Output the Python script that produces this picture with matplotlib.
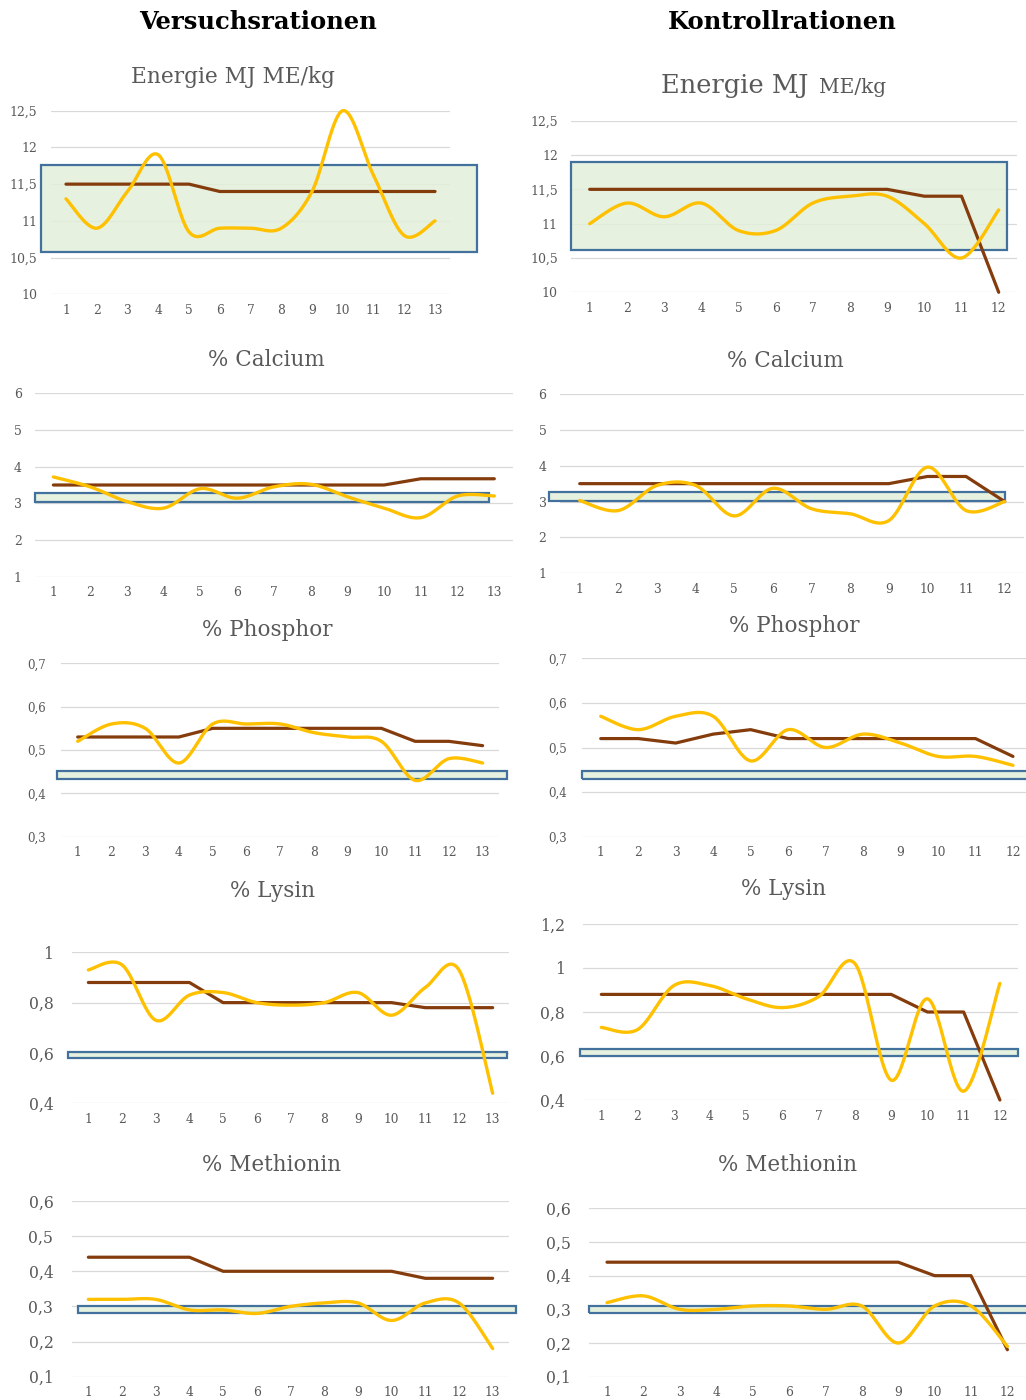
import numpy as np
import matplotlib.pyplot as plt
from matplotlib.patches import Rectangle
from matplotlib.ticker import FuncFormatter, MultipleLocator
import matplotlib.transforms as mtransforms

plt.rcParams['font.family'] = ['DejaVu Serif']

W, H = 1026, 1400
YELLOW = '#FFC000'
BROWN = '#843C0C'
FILL = '#E2EFDA'
EDGE = '#41719C'
GRID = '#D9D9D9'
TXT = '#595959'

# --- Versuchsrationen (13 rations) ---
v_energie_soll = [11.5, 11.5, 11.5, 11.5, 11.5, 11.4, 11.4, 11.4, 11.4, 11.4, 11.4, 11.4, 11.4]
v_energie_ist = [11.3, 10.9, 11.4, 11.9, 10.85, 10.9, 10.9, 10.9, 11.4, 12.5, 11.62, 10.8, 11.0]
v_ca_soll = [3.5, 3.5, 3.5, 3.5, 3.5, 3.5, 3.5, 3.5, 3.5, 3.5, 3.67, 3.67, 3.67]
v_ca_ist = [3.72, 3.45, 3.05, 2.87, 3.4, 3.14, 3.45, 3.52, 3.18, 2.87, 2.61, 3.2, 3.2]
v_p_soll = [0.53, 0.53, 0.53, 0.53, 0.55, 0.55, 0.55, 0.55, 0.55, 0.55, 0.52, 0.52, 0.51]
v_p_ist = [0.52, 0.56, 0.55, 0.47, 0.56, 0.56, 0.56, 0.54, 0.53, 0.52, 0.43, 0.48, 0.47]
v_lys_soll = [0.88, 0.88, 0.88, 0.88, 0.80, 0.80, 0.80, 0.80, 0.80, 0.80, 0.78, 0.78, 0.78]
v_lys_ist = [0.93, 0.95, 0.73, 0.83, 0.84, 0.80, 0.79, 0.80, 0.84, 0.75, 0.86, 0.93, 0.44]
v_met_soll = [0.44, 0.44, 0.44, 0.44, 0.40, 0.40, 0.40, 0.40, 0.40, 0.40, 0.38, 0.38, 0.38]
v_met_ist = [0.32, 0.32, 0.32, 0.29, 0.29, 0.28, 0.30, 0.31, 0.31, 0.26, 0.31, 0.31, 0.18]

# --- Kontrollrationen (12 rations) ---
k_energie_soll = [11.5, 11.5, 11.5, 11.5, 11.5, 11.5, 11.5, 11.5, 11.5, 11.4, 11.4, 10.0]
k_energie_ist = [11.0, 11.3, 11.1, 11.3, 10.9, 10.9, 11.3, 11.4, 11.4, 11.0, 10.5, 11.2]
k_ca_soll = [3.5, 3.5, 3.5, 3.5, 3.5, 3.5, 3.5, 3.5, 3.5, 3.7, 3.7, 3.0]
k_ca_ist = [3.03, 2.75, 3.45, 3.45, 2.6, 3.37, 2.8, 2.66, 2.47, 3.96, 2.75, 3.0]
k_p_soll = [0.52, 0.52, 0.51, 0.53, 0.54, 0.52, 0.52, 0.52, 0.52, 0.52, 0.52, 0.48]
k_p_ist = [0.57, 0.54, 0.57, 0.57, 0.47, 0.54, 0.50, 0.53, 0.51, 0.48, 0.48, 0.46]
k_lys_soll = [0.88, 0.88, 0.88, 0.88, 0.88, 0.88, 0.88, 0.88, 0.88, 0.80, 0.80, 0.40]
k_lys_ist = [0.73, 0.72, 0.92, 0.92, 0.86, 0.82, 0.87, 1.02, 0.49, 0.86, 0.44, 0.93]
k_met_soll = [0.44, 0.44, 0.44, 0.44, 0.44, 0.44, 0.44, 0.44, 0.44, 0.40, 0.40, 0.18]
k_met_ist = [0.32, 0.34, 0.30, 0.30, 0.31, 0.31, 0.30, 0.31, 0.20, 0.31, 0.31, 0.19]

# target ranges (Bedarfsbereich)
targets = {
    'energie_v': (10.57, 11.76), 'energie_k': (10.62, 11.90),
    'ca_v': (3.03, 3.27), 'ca_k': (3.02, 3.26),
    'p_v': (0.432, 0.452), 'p_k': (0.429, 0.448),
    'lys_v': (0.579, 0.605), 'lys_k': (0.600, 0.630),
    'met_v': (0.280, 0.302), 'met_k': (0.288, 0.311),
}


def smooth(y, steps=30):
    # Excel-style smoothed line: cubic Bezier segments with Catmull-Rom controls
    y = np.asarray(y, float)
    x = np.arange(1, len(y) + 1, dtype=float)
    P = np.column_stack([x, y])
    P = np.vstack([P[0], P, P[-1]])
    t = np.linspace(0, 1, steps)[:, None]
    out = []
    for i in range(1, len(P) - 2):
        p0, p3 = P[i], P[i + 1]
        c1 = p0 + (P[i + 1] - P[i - 1]) / 6
        c2 = p3 - (P[i + 2] - P[i]) / 6
        seg = ((1 - t) ** 3) * p0 + 3 * ((1 - t) ** 2) * t * c1 + 3 * (1 - t) * t ** 2 * c2 + t ** 3 * p3
        out.append(seg if i == 1 else seg[1:])
    seg = np.vstack(out)
    return seg[:, 0], seg[:, 1]


def comma(v, pos):
    s = ('%.1f' % v).rstrip('0').rstrip('.')
    return s.replace('.', ',')


fig = plt.figure(figsize=(W / 100, H / 100), dpi=100)


def panel(box, ylim, step, soll, ist, target, bx, ylab_size, ypad):
    l, r, t, b = box
    ax = fig.add_axes([l / W, 1 - b / H, (r - l) / W, (b - t) / H])
    n = len(soll)
    ax.set_xlim(0.5, n + 0.5)
    ax.set_ylim(*ylim)
    ax.yaxis.set_major_locator(MultipleLocator(step))
    ax.yaxis.set_major_formatter(FuncFormatter(comma))
    ax.set_xticks(range(1, n + 1))
    ax.tick_params(length=0, colors=TXT)
    ax.tick_params(axis='y', labelsize=ylab_size, pad=ypad)
    ax.tick_params(axis='x', labelsize=8.8, pad=7)
    for s in ax.spines.values():
        s.set_visible(False)
    ax.set_axisbelow(True)
    ax.grid(axis='y', color=GRID, lw=0.9)
    ax.patch.set_alpha(0)

    trans = mtransforms.blended_transform_factory(ax.transAxes, ax.transData)
    x0 = (bx[0] - l) / (r - l)
    x1 = (bx[1] - l) / (r - l)
    ax.add_patch(Rectangle((x0, target[0]), x1 - x0, target[1] - target[0],
                           transform=trans, facecolor=FILL, alpha=0.85,
                           edgecolor='none', zorder=1, clip_on=False))
    ax.add_patch(Rectangle((x0, target[0]), x1 - x0, target[1] - target[0],
                           transform=trans, facecolor='none',
                           edgecolor=EDGE, lw=1.6, zorder=1.1, clip_on=False))

    xs = np.arange(1, n + 1)
    ax.plot(xs, soll, color=BROWN, lw=2.3, zorder=3, clip_on=False,
            solid_capstyle='round')
    sx, sy = smooth(ist)
    ax.plot(sx, sy, color=YELLOW, lw=2.4, zorder=4, clip_on=False,
            solid_capstyle='round')
    return ax


# left column
panel((50.6, 450.4, 110.7, 294.3), (10, 12.5), 0.5, v_energie_soll, v_energie_ist,
      targets['energie_v'], (41, 477), 9, 9.5)
panel((35, 512.7, 393.3, 576.7), (1, 6), 1, v_ca_soll, v_ca_ist,
      targets['ca_v'], (35, 489), 9, 9.5)
panel((60.8, 499.5, 663.3, 836.7), (0.3, 0.7), 0.1, v_p_soll, v_p_ist,
      targets['p_v'], (57.3, 507.3), 8.5, 11)
panel((71.5, 509.5, 952.3, 1103.3), (0.4, 1.0), 0.2, v_lys_soll, v_lys_ist,
      targets['lys_v'], (68.3, 506.7), 11.3, 13)
panel((71.5, 509.5, 1201, 1376.7), (0.1, 0.6), 0.1, v_met_soll, v_met_ist,
      targets['met_v'], (77.7, 516), 11.3, 13)

# right column
panel((571.1, 1017.3, 120.7, 292.3), (10, 12.5), 0.5, k_energie_soll, k_energie_ist,
      targets['energie_k'], (570.7, 1007), 9, 9.5)
panel((560.4, 1024, 394, 573.3), (1, 6), 1, k_ca_soll, k_ca_ist,
      targets['ca_k'], (549, 1004.7), 9, 10)
panel((582, 1031.7, 658.3, 836.7), (0.3, 0.7), 0.1, k_p_soll, k_p_ist,
      targets['p_k'], (582, 1040), 8.5, 10.5)
panel((583.2, 1018, 924, 1100), (0.4, 1.2), 0.2, k_lys_soll, k_lys_ist,
      targets['lys_k'], (579.7, 1018), 11.3, 13)
panel((588.8, 1025.6, 1208.3, 1376.7), (0.1, 0.6), 0.1, k_met_soll, k_met_ist,
      targets['met_k'], (589, 1040), 11.3, 13)


def ftext(x, y, s, **kw):
    fig.text(x / W, 1 - y / H, s, **kw)


ftext(258, 22, 'Versuchsrationen', ha='center', va='center', fontsize=17.5,
      fontweight='bold', color='black')
ftext(782, 22, 'Kontrollrationen', ha='center', va='center', fontsize=17.5,
      fontweight='bold', color='black')

ftext(233, 76.7, 'Energie MJ ME/kg', ha='center', va='center', fontsize=15.6, color=TXT)
ftext(660.7, 93.3, 'Energie MJ', ha='left', va='baseline', fontsize=18.5, color=TXT)
ftext(819, 93.3, 'ME/kg', ha='left', va='baseline', fontsize=14.5, color=TXT)

titles = [(266, 360, '% Calcium'), (785, 360.7, '% Calcium'),
          (267, 630, '% Phosphor'), (794, 626, '% Phosphor'),
          (272.5, 890.7, '% Lysin'), (784, 889, '% Lysin'),
          (272, 1165, '% Methionin'), (788, 1165, '% Methionin')]
for x, y, s in titles:
    ftext(x, y, s, ha='center', va='center', fontsize=15.5, color=TXT)

fig.savefig('out.png', dpi=100, facecolor='white')
